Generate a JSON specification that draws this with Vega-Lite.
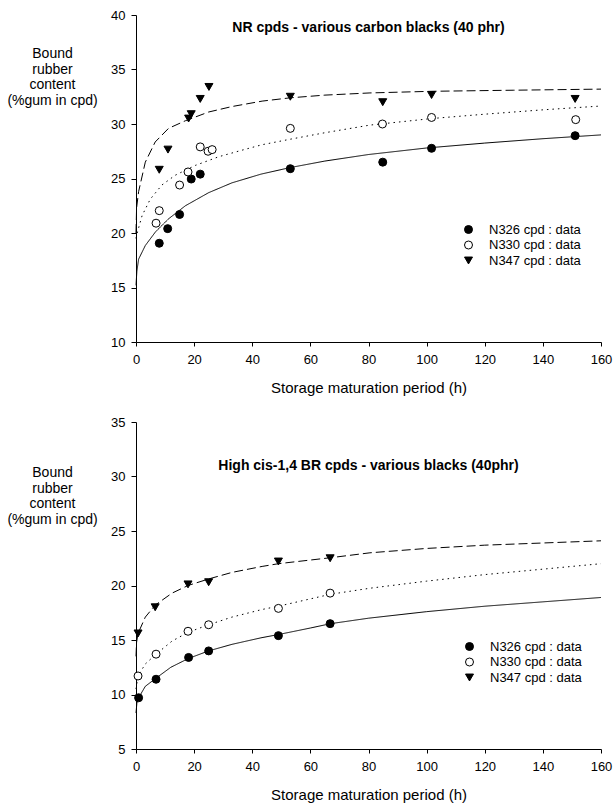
{
  "$schema": "https://vega.github.io/schema/vega-lite/v6.json",
  "padding": {"left": 6, "top": 9, "right": 5, "bottom": 5},
  "bounds": "flush",
  "spacing": 80,
  "resolve": {"scale": {"shape": "independent", "fill": "independent", "strokeDash": "independent"}, "legend": {"shape": "independent", "fill": "independent"}},
  "config": {
    "font": "Liberation Sans",
    "view": {"stroke": null},
    "axis": {"domainColor": "black", "tickColor": "black", "labelColor": "black", "titleColor": "black", "labelFont": "Liberation Sans", "titleFont": "Liberation Sans", "labelFontSize": 13, "grid": false, "domainWidth": 1, "tickWidth": 1, "titleFontWeight": "normal"},
    "title": {"font": "Liberation Sans", "color": "black"}
  },
  "datasets": {
    "nr_points": [
      {"t": 8.0, "v": 19.06, "series": "N326 cpd : data"},
      {"t": 10.9, "v": 20.4, "series": "N326 cpd : data"},
      {"t": 15.0, "v": 21.7, "series": "N326 cpd : data"},
      {"t": 19.0, "v": 24.95, "series": "N326 cpd : data"},
      {"t": 22.1, "v": 25.4, "series": "N326 cpd : data"},
      {"t": 53.1, "v": 25.9, "series": "N326 cpd : data"},
      {"t": 84.9, "v": 26.5, "series": "N326 cpd : data"},
      {"t": 101.7, "v": 27.77, "series": "N326 cpd : data"},
      {"t": 151.1, "v": 28.93, "series": "N326 cpd : data"},
      {"t": 6.9, "v": 20.9, "series": "N330 cpd : data"},
      {"t": 8.0, "v": 22.05, "series": "N330 cpd : data"},
      {"t": 15.0, "v": 24.4, "series": "N330 cpd : data"},
      {"t": 17.9, "v": 25.6, "series": "N330 cpd : data"},
      {"t": 22.1, "v": 27.9, "series": "N330 cpd : data"},
      {"t": 24.8, "v": 27.5, "series": "N330 cpd : data"},
      {"t": 26.2, "v": 27.65, "series": "N330 cpd : data"},
      {"t": 53.1, "v": 29.6, "series": "N330 cpd : data"},
      {"t": 84.8, "v": 30.0, "series": "N330 cpd : data"},
      {"t": 101.7, "v": 30.6, "series": "N330 cpd : data"},
      {"t": 151.3, "v": 30.4, "series": "N330 cpd : data"},
      {"t": 8.0, "v": 25.8, "series": "N347 cpd : data"},
      {"t": 11.0, "v": 27.65, "series": "N347 cpd : data"},
      {"t": 18.1, "v": 30.5, "series": "N347 cpd : data"},
      {"t": 19.0, "v": 30.9, "series": "N347 cpd : data"},
      {"t": 22.1, "v": 32.3, "series": "N347 cpd : data"},
      {"t": 25.1, "v": 33.4, "series": "N347 cpd : data"},
      {"t": 53.1, "v": 32.5, "series": "N347 cpd : data"},
      {"t": 84.9, "v": 32.0, "series": "N347 cpd : data"},
      {"t": 101.7, "v": 32.66, "series": "N347 cpd : data"},
      {"t": 151.1, "v": 32.3, "series": "N347 cpd : data"}
    ],
    "nr_fits": [
      {"t": 0, "v": 15.2, "curve": "N326 fit"},
      {"t": 0.3, "v": 16.5, "curve": "N326 fit"},
      {"t": 0.9, "v": 17.6, "curve": "N326 fit"},
      {"t": 3.2, "v": 18.85, "curve": "N326 fit"},
      {"t": 6.7, "v": 20.1, "curve": "N326 fit"},
      {"t": 11.2, "v": 21.3, "curve": "N326 fit"},
      {"t": 17, "v": 22.5, "curve": "N326 fit"},
      {"t": 25, "v": 23.7, "curve": "N326 fit"},
      {"t": 33, "v": 24.6, "curve": "N326 fit"},
      {"t": 43, "v": 25.4, "curve": "N326 fit"},
      {"t": 53, "v": 26.0, "curve": "N326 fit"},
      {"t": 65, "v": 26.6, "curve": "N326 fit"},
      {"t": 80, "v": 27.2, "curve": "N326 fit"},
      {"t": 100, "v": 27.8, "curve": "N326 fit"},
      {"t": 120, "v": 28.25, "curve": "N326 fit"},
      {"t": 140, "v": 28.65, "curve": "N326 fit"},
      {"t": 160, "v": 29.0, "curve": "N326 fit"},
      {"t": 0, "v": 19.5, "curve": "N330 fit"},
      {"t": 0.3, "v": 19.9, "curve": "N330 fit"},
      {"t": 2.1, "v": 21.6, "curve": "N330 fit"},
      {"t": 4.9, "v": 23.1, "curve": "N330 fit"},
      {"t": 8.9, "v": 24.4, "curve": "N330 fit"},
      {"t": 13.5, "v": 25.3, "curve": "N330 fit"},
      {"t": 20.4, "v": 26.2, "curve": "N330 fit"},
      {"t": 28.5, "v": 27.0, "curve": "N330 fit"},
      {"t": 36.5, "v": 27.6, "curve": "N330 fit"},
      {"t": 43.4, "v": 28.1, "curve": "N330 fit"},
      {"t": 53, "v": 28.6, "curve": "N330 fit"},
      {"t": 65, "v": 29.2, "curve": "N330 fit"},
      {"t": 80.5, "v": 29.9, "curve": "N330 fit"},
      {"t": 101.7, "v": 30.5, "curve": "N330 fit"},
      {"t": 120, "v": 30.9, "curve": "N330 fit"},
      {"t": 140, "v": 31.3, "curve": "N330 fit"},
      {"t": 160, "v": 31.65, "curve": "N330 fit"},
      {"t": 0, "v": 20.0, "curve": "N347 fit"},
      {"t": 0.2, "v": 22.3, "curve": "N347 fit"},
      {"t": 0.9, "v": 23.8, "curve": "N347 fit"},
      {"t": 3.2, "v": 26.5, "curve": "N347 fit"},
      {"t": 6.6, "v": 28.35, "curve": "N347 fit"},
      {"t": 11.2, "v": 29.6, "curve": "N347 fit"},
      {"t": 17, "v": 30.3, "curve": "N347 fit"},
      {"t": 25, "v": 31.1, "curve": "N347 fit"},
      {"t": 33, "v": 31.6, "curve": "N347 fit"},
      {"t": 43.4, "v": 32.1, "curve": "N347 fit"},
      {"t": 53, "v": 32.4, "curve": "N347 fit"},
      {"t": 65, "v": 32.65, "curve": "N347 fit"},
      {"t": 80.5, "v": 32.85, "curve": "N347 fit"},
      {"t": 101.7, "v": 33.0, "curve": "N347 fit"},
      {"t": 130, "v": 33.1, "curve": "N347 fit"},
      {"t": 160, "v": 33.2, "curve": "N347 fit"}
    ],
    "br_points": [
      {"t": 0.9, "v": 9.7, "series": "N326 cpd : data"},
      {"t": 6.9, "v": 11.4, "series": "N326 cpd : data"},
      {"t": 18.1, "v": 13.4, "series": "N326 cpd : data"},
      {"t": 25.0, "v": 14.0, "series": "N326 cpd : data"},
      {"t": 49.0, "v": 15.4, "series": "N326 cpd : data"},
      {"t": 66.8, "v": 16.5, "series": "N326 cpd : data"},
      {"t": 0.7, "v": 11.7, "series": "N330 cpd : data"},
      {"t": 6.9, "v": 13.7, "series": "N330 cpd : data"},
      {"t": 17.9, "v": 15.8, "series": "N330 cpd : data"},
      {"t": 25.0, "v": 16.4, "series": "N330 cpd : data"},
      {"t": 49.0, "v": 17.9, "series": "N330 cpd : data"},
      {"t": 66.8, "v": 19.3, "series": "N330 cpd : data"},
      {"t": 0.7, "v": 15.6, "series": "N347 cpd : data"},
      {"t": 6.6, "v": 18.0, "series": "N347 cpd : data"},
      {"t": 17.9, "v": 20.1, "series": "N347 cpd : data"},
      {"t": 25.0, "v": 20.3, "series": "N347 cpd : data"},
      {"t": 49.0, "v": 22.2, "series": "N347 cpd : data"},
      {"t": 66.8, "v": 22.5, "series": "N347 cpd : data"}
    ],
    "br_fits": [
      {"t": 0, "v": 8.3, "curve": "N326 fit"},
      {"t": 0.3, "v": 9.2, "curve": "N326 fit"},
      {"t": 0.9, "v": 9.7, "curve": "N326 fit"},
      {"t": 3.2, "v": 10.75, "curve": "N326 fit"},
      {"t": 6.9, "v": 11.5, "curve": "N326 fit"},
      {"t": 12, "v": 12.5, "curve": "N326 fit"},
      {"t": 18, "v": 13.3, "curve": "N326 fit"},
      {"t": 25, "v": 14.0, "curve": "N326 fit"},
      {"t": 33, "v": 14.6, "curve": "N326 fit"},
      {"t": 43, "v": 15.2, "curve": "N326 fit"},
      {"t": 49, "v": 15.5, "curve": "N326 fit"},
      {"t": 60, "v": 16.1, "curve": "N326 fit"},
      {"t": 67, "v": 16.5, "curve": "N326 fit"},
      {"t": 80, "v": 17.0, "curve": "N326 fit"},
      {"t": 100, "v": 17.6, "curve": "N326 fit"},
      {"t": 120, "v": 18.1, "curve": "N326 fit"},
      {"t": 140, "v": 18.5, "curve": "N326 fit"},
      {"t": 160, "v": 18.9, "curve": "N326 fit"},
      {"t": 0, "v": 10.5, "curve": "N330 fit"},
      {"t": 0.7, "v": 11.7, "curve": "N330 fit"},
      {"t": 3.2, "v": 12.8, "curve": "N330 fit"},
      {"t": 6.9, "v": 13.7, "curve": "N330 fit"},
      {"t": 12.4, "v": 14.9, "curve": "N330 fit"},
      {"t": 17.9, "v": 15.7, "curve": "N330 fit"},
      {"t": 25, "v": 16.4, "curve": "N330 fit"},
      {"t": 33, "v": 17.1, "curve": "N330 fit"},
      {"t": 43.4, "v": 17.8, "curve": "N330 fit"},
      {"t": 49, "v": 18.1, "curve": "N330 fit"},
      {"t": 67, "v": 19.2, "curve": "N330 fit"},
      {"t": 80.5, "v": 19.75, "curve": "N330 fit"},
      {"t": 100, "v": 20.4, "curve": "N330 fit"},
      {"t": 120, "v": 21.0, "curve": "N330 fit"},
      {"t": 140, "v": 21.5, "curve": "N330 fit"},
      {"t": 160, "v": 22.0, "curve": "N330 fit"},
      {"t": 0, "v": 13.5, "curve": "N347 fit"},
      {"t": 0.2, "v": 14.8, "curve": "N347 fit"},
      {"t": 0.7, "v": 15.6, "curve": "N347 fit"},
      {"t": 3.2, "v": 17.1, "curve": "N347 fit"},
      {"t": 6.6, "v": 18.2, "curve": "N347 fit"},
      {"t": 12.4, "v": 19.3, "curve": "N347 fit"},
      {"t": 17.9, "v": 20.0, "curve": "N347 fit"},
      {"t": 25, "v": 20.6, "curve": "N347 fit"},
      {"t": 33, "v": 21.2, "curve": "N347 fit"},
      {"t": 43.4, "v": 21.75, "curve": "N347 fit"},
      {"t": 49, "v": 22.0, "curve": "N347 fit"},
      {"t": 67, "v": 22.55, "curve": "N347 fit"},
      {"t": 80.5, "v": 23.0, "curve": "N347 fit"},
      {"t": 100, "v": 23.4, "curve": "N347 fit"},
      {"t": 120, "v": 23.7, "curve": "N347 fit"},
      {"t": 140, "v": 23.9, "curve": "N347 fit"},
      {"t": 160, "v": 24.1, "curve": "N347 fit"}
    ]
  },
  "vconcat": [
    {
      "width": 465,
      "height": 327,
      "title": {"text": "NR cpds - various carbon blacks (40 phr)", "fontSize": 14, "fontWeight": "bold", "anchor": "middle", "frame": "group", "baseline": "alphabetic", "offset": -36.5},
      "layer": [
        {
          "data": {"name": "nr_fits"},
          "mark": {"type": "line", "color": "black", "strokeWidth": 1},
          "encoding": {
            "x": {"field": "t", "type": "quantitative", "scale": {"domain": [0, 160], "nice": false},
              "axis": {"values": [0, 20, 40, 60, 80, 100, 120, 140, 160], "title": "Storage maturation period (h)", "titleFontSize": 15, "titleY": 45, "titleBaseline": "middle", "tickSize": 4, "labelPadding": 7, "labelFlush": false}},
            "y": {"field": "v", "type": "quantitative", "scale": {"domain": [10, 40], "nice": false, "zero": false},
              "axis": {"values": [10, 15, 20, 25, 30, 35, 40], "title": ["Bound", "rubber", "content", "(%gum in cpd)"], "titleAngle": 0, "titleAlign": "center", "titleBaseline": "top", "titleX": -84, "titleY": 31.5, "titleFontSize": 14, "titleLineHeight": 15.5, "tickSize": 5, "labelPadding": 6}},
            "strokeDash": {"field": "curve", "type": "nominal", "scale": {"domain": ["N326 fit", "N330 fit", "N347 fit"], "range": [[1, 0], [1.5, 4], [9, 4]]}, "legend": null}
          }
        },
        {
          "data": {"name": "nr_points"},
          "mark": {"type": "point", "filled": false, "color": "black", "strokeWidth": 1, "size": 64, "opacity": 1},
          "encoding": {
            "x": {"field": "t", "type": "quantitative"},
            "y": {"field": "v", "type": "quantitative"},
            "shape": {"field": "series", "type": "nominal", "scale": {"domain": ["N326 cpd : data", "N330 cpd : data", "N347 cpd : data"], "range": ["circle", "circle", "triangle-down"]},
              "legend": {"orient": "none", "legendX": 326, "legendY": 208, "title": null, "labelFontSize": 13, "labelFont": "Liberation Sans", "labelColor": "black", "symbolSize": 64, "labelOffset": 14, "rowPadding": 1.5, "padding": 0, "symbolStrokeWidth": 1,
                "encode": {"symbols": {"update": {"fill": {"signal": "datum.value === 'N330 cpd : data' ? 'white' : 'black'"}, "fillOpacity": {"value": 1}, "stroke": {"value": "black"}, "strokeWidth": {"value": 1}, "strokeOpacity": {"value": 1}}}}}},
            "fill": {"field": "series", "type": "nominal", "scale": {"domain": ["N326 cpd : data", "N330 cpd : data", "N347 cpd : data"], "range": ["black", "white", "black"]}, "legend": null}
          }
        }
      ]
    },
    {
      "width": 465,
      "height": 327,
      "title": {"text": "High cis-1,4 BR cpds - various blacks (40phr)", "fontSize": 14, "fontWeight": "bold", "anchor": "middle", "frame": "group", "baseline": "alphabetic", "offset": -68},
      "layer": [
        {
          "data": {"name": "br_fits"},
          "mark": {"type": "line", "color": "black", "strokeWidth": 1},
          "encoding": {
            "x": {"field": "t", "type": "quantitative", "scale": {"domain": [0, 160], "nice": false},
              "axis": {"values": [0, 20, 40, 60, 80, 100, 120, 140, 160], "title": "Storage maturation period (h)", "titleFontSize": 15, "titleY": 45, "titleBaseline": "middle", "tickSize": 4, "labelPadding": 7, "labelFlush": false}},
            "y": {"field": "v", "type": "quantitative", "scale": {"domain": [5, 35], "nice": false, "zero": false},
              "axis": {"values": [5, 10, 15, 20, 25, 30, 35], "title": ["Bound", "rubber", "content", "(%gum in cpd)"], "titleAngle": 0, "titleAlign": "center", "titleBaseline": "top", "titleX": -84, "titleY": 43.5, "titleFontSize": 14, "titleLineHeight": 15.5, "tickSize": 5, "labelPadding": 6}},
            "strokeDash": {"field": "curve", "type": "nominal", "scale": {"domain": ["N326 fit", "N330 fit", "N347 fit"], "range": [[1, 0], [1.5, 4], [9, 4]]}, "legend": null}
          }
        },
        {
          "data": {"name": "br_points"},
          "mark": {"type": "point", "filled": false, "color": "black", "strokeWidth": 1, "size": 64, "opacity": 1},
          "encoding": {
            "x": {"field": "t", "type": "quantitative"},
            "y": {"field": "v", "type": "quantitative"},
            "shape": {"field": "series", "type": "nominal", "scale": {"domain": ["N326 cpd : data", "N330 cpd : data", "N347 cpd : data"], "range": ["circle", "circle", "triangle-down"]},
              "legend": {"orient": "none", "legendX": 327, "legendY": 218, "title": null, "labelFontSize": 13, "labelFont": "Liberation Sans", "labelColor": "black", "symbolSize": 64, "labelOffset": 14, "rowPadding": 1.5, "padding": 0, "symbolStrokeWidth": 1,
                "encode": {"symbols": {"update": {"fill": {"signal": "datum.value === 'N330 cpd : data' ? 'white' : 'black'"}, "fillOpacity": {"value": 1}, "stroke": {"value": "black"}, "strokeWidth": {"value": 1}, "strokeOpacity": {"value": 1}}}}}},
            "fill": {"field": "series", "type": "nominal", "scale": {"domain": ["N326 cpd : data", "N330 cpd : data", "N347 cpd : data"], "range": ["black", "white", "black"]}, "legend": null}
          }
        }
      ]
    }
  ]
}
